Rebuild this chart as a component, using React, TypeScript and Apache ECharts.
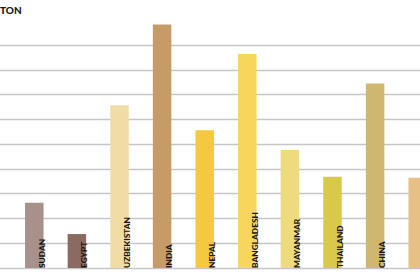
import React, { useEffect, useRef } from "react";
import * as echarts from "echarts";

// Countries in drawing order, with their bar values (gridline = 1 unit)
const countries = [
  "SUDAN",
  "EGYPT",
  "UZBEKISTAN",
  "INDIA",
  "NEPAL",
  "BANGLADESH",
  "MAYANMAR",
  "THAILAND",
  "CHINA",
  "VIETNAM",
];
const values = [2.63, 1.37, 6.57, 9.83, 5.56, 8.64, 4.76, 3.68, 7.45, 3.64];
const barColors = [
  "#a8918a",
  "#8b6b61",
  "#f1dca6",
  "#c69b68",
  "#f5c93e",
  "#f8d65e",
  "#eddb7e",
  "#d8c94c",
  "#cfb86e",
  "#e6c085",
];
// The last bar runs past the right edge, so its name stays hidden
const showName = [true, true, true, true, true, true, true, true, true, false];
const yTicks = [0, 1, 2, 3, 4, 5, 6, 7, 8, 9];

export default function App() {
  const ref = useRef<HTMLDivElement>(null);

  useEffect(() => {
    if (!ref.current) return;
    const chart = echarts.init(ref.current, undefined, { renderer: "svg" });
    chart.setOption({
      animation: false,
      backgroundColor: "#ffffff",
      grid: { left: 0, right: 0, top: 45, bottom: 7, containLabel: false },
      xAxis: {
        type: "value",
        min: -0.805,
        max: 9.054,
        show: false,
      },
      yAxis: {
        type: "value",
        min: yTicks[0],
        max: yTicks[yTicks.length - 1],
        interval: 1,
        axisLine: { show: false },
        axisTick: { show: false },
        axisLabel: { show: false },
        splitLine: { show: true, lineStyle: { color: "#c6c6c6", width: 1.3 } },
      },
      graphic: [
        {
          type: "text",
          left: 0,
          top: 5,
          style: {
            text: "TON",
            fill: "#161616",
            font: "900 10px Lato, 'DejaVu Sans', sans-serif",
          },
        },
      ],
      series: [
        {
          type: "bar",
          clip: false,
          barWidth: 18.5,
          data: values.map((v, i) => ({
            value: [i, v],
            name: countries[i],
            itemStyle: { color: barColors[i] },
            label: {
              show: showName[i],
              formatter: countries[i],
              position: ["95%", "100%"],
              offset: [0, -1],
              rotate: 90,
              align: "left",
              verticalAlign: "middle",
              color: "#161616",
              fontFamily: "Lato, 'DejaVu Sans', sans-serif",
              fontWeight: 900,
              fontSize: 8.3,
            },
          })),
        },
      ],
    });
    return () => chart.dispose();
  }, []);

  return (
    <div
      ref={ref}
      style={{ position: "fixed", left: 0, top: 0, width: 420, height: 275 }}
    />
  );
}
